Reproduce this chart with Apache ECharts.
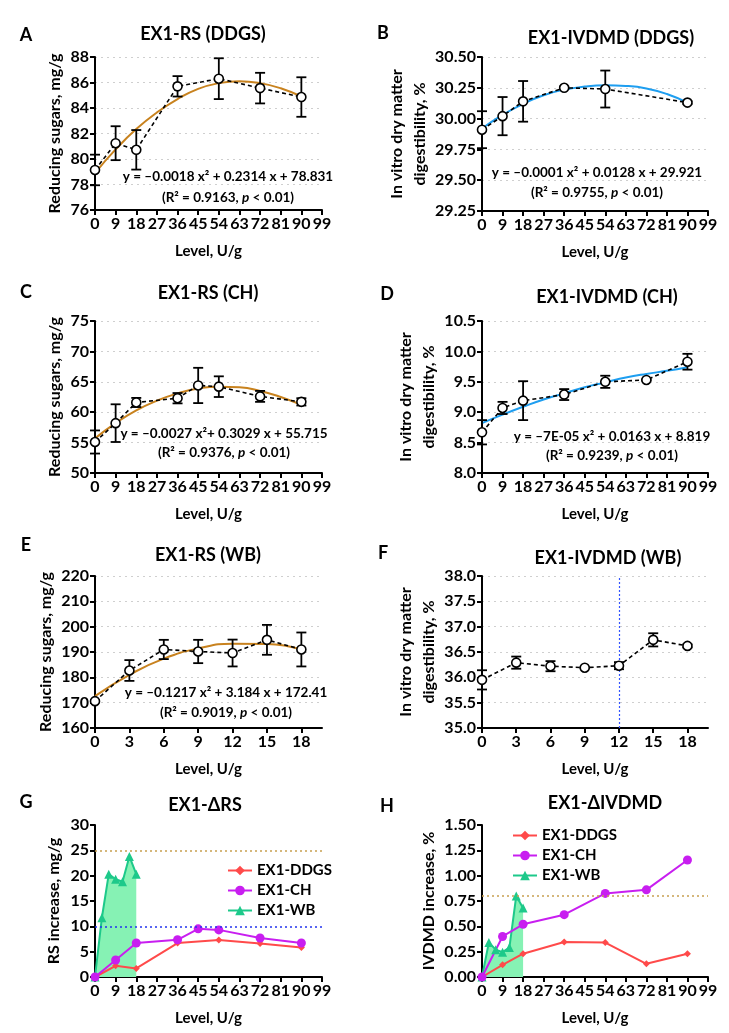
<!DOCTYPE html>
<html><head><meta charset="utf-8">
<script src="https://cdn.jsdelivr.net/npm/echarts@6/dist/echarts.min.js"></script>
<style>html,body{margin:0;padding:0;background:#fff}#c{width:729px;height:1033px}</style>
</head><body><div id="c"></div>
<script>
// ---------- data ----------
const levels99 = [0, 9, 18, 27, 36, 45, 54, 63, 72, 81, 90, 99];
const levelsWBTicks = [0, 3, 6, 9, 12, 15, 18];
const fitLevels = [0, 9, 18, 27, 36, 45, 54, 63, 72, 81, 90];

// A: RS DDGS
const levelDDGS = [0, 9, 18, 36, 54, 72, 90];
const rsDDGSMean = [79.14, 81.24, 80.72, 85.70, 86.30, 85.56, 84.86];
const rsDDGSSe = [1.20, 1.33, 1.55, 0.80, 1.60, 1.20, 1.55];
const rsDDGSFit = [78.90, 80.75, 82.35, 83.65, 84.70, 85.50, 85.95, 86.10, 85.95, 85.55, 84.90];

// B: IVDMD DDGS
const levelIvDDGS = [0, 9, 18, 36, 54, 90];
const ivDDGSMean = [29.91, 30.02, 30.14, 30.25, 30.24, 30.13];
const ivDDGSSe = [0.15, 0.155, 0.165, 0.01, 0.15, 0.01];
const ivDDGSFit = [29.92, 30.03, 30.12, 30.19, 30.235, 30.26, 30.27, 30.265, 30.245, 30.20, 30.13];

// C: RS CH
const levelCH = [0, 9, 18, 36, 45, 54, 72, 90];
const rsCHMean = [55.1, 58.2, 61.6, 62.3, 64.4, 64.2, 62.6, 61.7];
const rsCHSe = [1.9, 3.1, 0.75, 0.85, 2.9, 1.7, 0.9, 0.6];
const rsCHFit = [55.7, 58.2, 60.3, 61.9, 63.1, 63.9, 64.2, 64.1, 63.5, 62.5, 61.2];

// D: IVDMD CH
const levelIvCH = [0, 9, 18, 36, 54, 72, 90];
const ivCHMean = [8.67, 9.07, 9.19, 9.29, 9.50, 9.53, 9.83];
const ivCHSe = [0.20, 0.10, 0.32, 0.09, 0.10, 0.01, 0.13];
const ivCHFit = [8.82, 8.96, 9.09, 9.21, 9.31, 9.41, 9.49, 9.57, 9.63, 9.68, 9.74];

// E: RS WB
const levelWB = [0, 3, 6, 9, 12, 15, 18];
const rsWBMean = [170.6, 182.7, 191.0, 190.2, 189.6, 194.8, 191.0];
const rsWBSe = [0.5, 4.1, 3.8, 4.6, 5.3, 5.9, 6.7];
const rsWBFit = [172.6, 181.0, 187.4, 191.4, 193.3, 193.2, 191.0];

// F: IVDMD WB
const ivWBMean = [35.95, 36.29, 36.22, 36.19, 36.23, 36.74, 36.62];
const ivWBSe = [0.19, 0.12, 0.10, 0.01, 0.07, 0.13, 0.03];

// G: delta RS
const dRsDDGS = [0, 2.2, 1.7, 6.7, 7.3, 6.6, 5.8];
const dRsCH = [0, 3.35, 6.7, 7.35, 9.5, 9.3, 7.7, 6.7];
const dRsWB = [0, 11.7, 20.3, 19.3, 18.8, 23.8, 20.3];

// H: delta IVDMD
const dIvDDGS = [0, 0.12, 0.23, 0.345, 0.34, 0.13, 0.23];
const dIvCH = [0, 0.40, 0.52, 0.615, 0.825, 0.86, 1.155];
const dIvWB = [0, 0.34, 0.27, 0.245, 0.29, 0.80, 0.68];

// ---------- styling / layout ----------
const FONT = 'Lato';
const BROWN = '#C8821E', BLUE = '#1E9EF0';
const RED = '#FF4A4A', MAG = '#C81EF0', GREEN = '#1DC98A', GREENFILL = '#86F2B4';

const grids = [
  {left: 95, top: 57, width: 227, height: 153},
  {left: 482, top: 57, width: 226, height: 154},
  {left: 95, top: 321, width: 227, height: 152},
  {left: 482, top: 321, width: 226, height: 152},
  {left: 95, top: 576, width: 227, height: 152},
  {left: 482, top: 576, width: 226, height: 152},
  {left: 95, top: 825, width: 227, height: 152},
  {left: 482, top: 825, width: 226, height: 152}
];

const axisLineStyle = {lineStyle: {color: '#000', width: 2}};
const tickStyle = {show: true, length: 5, lineStyle: {color: '#000', width: 2}};
const labelBase = {color: '#000', fontFamily: FONT, fontWeight: 'bold', fontSize: 16};
const nameBase = {color: '#000', fontFamily: FONT, fontWeight: 'bold', fontSize: 16};

function xAxisFor(i, wb) {
  const ax = {
    type: 'value', gridIndex: i, min: 0,
    axisLine: axisLineStyle, axisTick: Object.assign({}, tickStyle),
    axisLabel: Object.assign({margin: 6}, labelBase),
    splitLine: {show: false},
    name: 'Level, U/g', nameLocation: 'middle', nameGap: 34,
    nameTextStyle: Object.assign({}, nameBase, {fontSize: 15})
  };
  if (wb) {
    ax.max = 19.8;
    ax.axisTick.customValues = levelsWBTicks;
    ax.axisLabel.customValues = levelsWBTicks;
  } else {
    ax.max = 99; ax.interval = 9;
    ax.axisLabel.customValues = levels99;
    ax.axisTick.customValues = levels99;
  }
  return ax;
}

function yAxisFor(i, min, max, interval, dec, name, gap, grid) {
  return {
    type: 'value', gridIndex: i, min: min, max: max, interval: interval,
    axisLine: {show: true, lineStyle: {color: '#000', width: 2}},
    axisTick: tickStyle,
    axisLabel: Object.assign({margin: 6, formatter: v => v.toFixed(dec)}, labelBase),
    splitLine: {show: grid, lineStyle: {color: '#cfcfcf', type: [2, 4], width: 1.2}},
    name: name, nameLocation: 'middle', nameGap: gap,
    nameTextStyle: Object.assign({lineHeight: 23}, nameBase)
  };
}

function pairs(xs, ys) { return xs.map((x, k) => [x, ys[k]]); }

function errBars(i, xs, ys, es) {
  return {
    type: 'custom', xAxisIndex: i, yAxisIndex: i, z: 3, clip: false, silent: true,
    data: xs.map((x, k) => [x, ys[k] - es[k], ys[k] + es[k]]),
    renderItem: function (params, api) {
      const lo = api.coord([api.value(0), api.value(1)]);
      const hi = api.coord([api.value(0), api.value(2)]);
      const w = 5;
      const st = {stroke: '#000', lineWidth: 1.8};
      return {type: 'group', children: [
        {type: 'line', shape: {x1: hi[0], y1: hi[1], x2: lo[0], y2: lo[1]}, style: st},
        {type: 'line', shape: {x1: hi[0] - w, y1: hi[1], x2: hi[0] + w, y2: hi[1]}, style: st},
        {type: 'line', shape: {x1: lo[0] - w, y1: lo[1], x2: lo[0] + w, y2: lo[1]}, style: st}
      ]};
    }
  };
}

function meanLine(i, xs, ys) {
  return {
    type: 'line', xAxisIndex: i, yAxisIndex: i, z: 5, data: pairs(xs, ys),
    symbol: 'circle', symbolSize: 9, clip: false,
    itemStyle: {color: '#fff', borderColor: '#000', borderWidth: 1.6},
    lineStyle: {color: '#000', width: 1.6, type: [4, 3]}
  };
}

function fitLine(i, xs, ys, color) {
  return {
    type: 'line', xAxisIndex: i, yAxisIndex: i, z: 2, data: pairs(xs, ys),
    smooth: true, showSymbol: false, symbol: 'none',
    lineStyle: {color: color, width: 2}
  };
}

function deltaLine(i, name, xs, ys, color, symbol, size, area) {
  const s = {
    type: 'line', name: name, xAxisIndex: i, yAxisIndex: i, data: pairs(xs, ys),
    symbol: symbol, symbolSize: size, clip: false,
    itemStyle: {color: color}, lineStyle: {color: color, width: 2}
  };
  if (area) s.areaStyle = {color: GREENFILL, opacity: 1};
  return s;
}

function hLine(i, yv, color) {
  return {
    type: 'line', xAxisIndex: i, yAxisIndex: i, data: [], silent: true,
    markLine: {silent: true, symbol: 'none', label: {show: false},
      lineStyle: {color: color, type: [2, 3], width: 1.5},
      data: [{yAxis: yv}]}
  };
}

const xAxes = [0, 1, 2, 3, 4, 5, 6, 7].map(i => xAxisFor(i, i === 4 || i === 5));
const yAxes = [
  yAxisFor(0, 76, 88, 2, 0, 'Reducing sugars, mg/g', 28, true),
  yAxisFor(1, 29.25, 30.5, 0.25, 2, 'In vitro dry matter\ndigestibility, %', 50, true),
  yAxisFor(2, 50, 75, 5, 0, 'Reducing sugars, mg/g', 28, true),
  yAxisFor(3, 8, 10.5, 0.5, 1, 'In vitro dry matter\ndigestibility, %', 42, true),
  yAxisFor(4, 160, 220, 10, 0, 'Reducing sugars, mg/g', 33, true),
  yAxisFor(5, 35, 38, 0.5, 1, 'In vitro dry matter\ndigestibility, %', 42, true),
  yAxisFor(6, 0, 30, 5, 0, 'RS increase, mg/g', 30, false),
  yAxisFor(7, 0, 1.5, 0.25, 2, 'IVDMD increase, %', 42, false)
];

const series = [
  // A
  fitLine(0, fitLevels, rsDDGSFit, BROWN), errBars(0, levelDDGS, rsDDGSMean, rsDDGSSe), meanLine(0, levelDDGS, rsDDGSMean),
  // B
  fitLine(1, fitLevels, ivDDGSFit, BLUE), errBars(1, levelIvDDGS, ivDDGSMean, ivDDGSSe), meanLine(1, levelIvDDGS, ivDDGSMean),
  // C
  fitLine(2, fitLevels, rsCHFit, BROWN), errBars(2, levelCH, rsCHMean, rsCHSe), meanLine(2, levelCH, rsCHMean),
  // D
  fitLine(3, fitLevels, ivCHFit, BLUE), errBars(3, levelIvCH, ivCHMean, ivCHSe), meanLine(3, levelIvCH, ivCHMean),
  // E
  fitLine(4, levelWB, rsWBFit, BROWN), errBars(4, levelWB, rsWBMean, rsWBSe), meanLine(4, levelWB, rsWBMean),
  // F
  errBars(5, levelWB, ivWBMean, ivWBSe), meanLine(5, levelWB, ivWBMean),
  {type: 'line', xAxisIndex: 5, yAxisIndex: 5, data: [], silent: true,
    markLine: {silent: true, symbol: 'none', label: {show: false},
      lineStyle: {color: '#3355FF', type: [2, 2], width: 1.2}, data: [{xAxis: 12}]}},
  // G
  hLine(6, 25, '#C8A050'), hLine(6, 10, '#2233EE'),
  deltaLine(6, 'EX1-WB', levelWB, dRsWB, GREEN, 'triangle', 9, true),
  deltaLine(6, 'EX1-DDGS', levelDDGS, dRsDDGS, RED, 'diamond', 7, false),
  deltaLine(6, 'EX1-CH', levelCH, dRsCH, MAG, 'circle', 9, false),
  // H
  hLine(7, 0.8, '#C8A050'),
  deltaLine(7, 'EX1-WB', levelWB, dIvWB, GREEN, 'triangle', 9, true),
  deltaLine(7, 'EX1-DDGS', levelDDGS, dIvDDGS, RED, 'diamond', 7, false),
  deltaLine(7, 'EX1-CH', levelIvCH, dIvCH, MAG, 'circle', 9, false)
];

const legendBase = {
  orient: 'vertical', data: ['EX1-DDGS', 'EX1-CH', 'EX1-WB'], itemWidth: 24, itemHeight: 12,
  itemGap: 5, selectedMode: false,
  textStyle: {color: '#000', fontFamily: FONT, fontWeight: 'bold', fontSize: 15}
};
const legends = [
  Object.assign({left: 222, top: 858}, legendBase),
  Object.assign({left: 507, top: 823}, legendBase)
];

function txt(x, y, text, size, extra) {
  return Object.assign({type: 'text', x: x, y: y, z: 100, style: {
    text: text, fill: '#000', fontFamily: FONT, fontWeight: 'bold', fontSize: size,
    align: 'center', verticalAlign: 'middle',
    rich: {i: {fontStyle: 'italic', fontWeight: 'bold', fontFamily: FONT, fontSize: size, fill: '#000'}}
  }}, extra || {});
}

const graphics = [
  txt(26, 35, 'A', 18), txt(383, 33, 'B', 18), txt(26, 292, 'C', 18), txt(387, 294, 'D', 18),
  txt(26, 545, 'E', 18), txt(383, 553, 'F', 18), txt(26, 802, 'G', 18), txt(387, 806, 'H', 18),
  txt(203, 34, 'EX1-RS (DDGS)', 18), txt(611, 38, 'EX1-IVDMD (DDGS)', 18),
  txt(208, 293, 'EX1-RS (CH)', 18), txt(607, 297, 'EX1-IVDMD (CH)', 18),
  txt(208, 555, 'EX1-RS (WB)', 18), txt(608, 558, 'EX1-IVDMD (WB)', 18),
  txt(205, 805, 'EX1-ΔRS', 18), txt(605, 803, 'EX1-ΔIVDMD', 18),
  txt(228, 177, 'y = –0.0018 x² + 0.2314 x + 78.831', 13.5), txt(228, 198, '(R² = 0.9163, {i|p} < 0.01)', 13.5),
  txt(597, 173, 'y = –0.0001 x² + 0.0128 x + 29.921', 13.5), txt(597, 193, '(R² = 0.9755, {i|p} < 0.01)', 13.5),
  txt(224, 434, 'y = –0.0027 x²+ 0.3029 x + 55.715', 13.5), txt(224, 453, '(R² = 0.9376, {i|p} < 0.01)', 13.5),
  txt(612, 437, 'y = –7E-05 x² + 0.0163 x + 8.819', 13.5), txt(612, 456, '(R² = 0.9239, {i|p} < 0.01)', 13.5),
  txt(226, 693, 'y = –0.1217 x² + 3.184 x + 172.41', 13.5), txt(226, 713, '(R² = 0.9019, {i|p} < 0.01)', 13.5)
];

const chart = echarts.init(document.getElementById('c'), null, {renderer: 'canvas'});
chart.setOption({
  animation: false,
  backgroundColor: '#fff',
  grid: grids,
  xAxis: xAxes,
  yAxis: yAxes,
  legend: legends,
  series: series,
  graphic: graphics
});
</script></body></html>
